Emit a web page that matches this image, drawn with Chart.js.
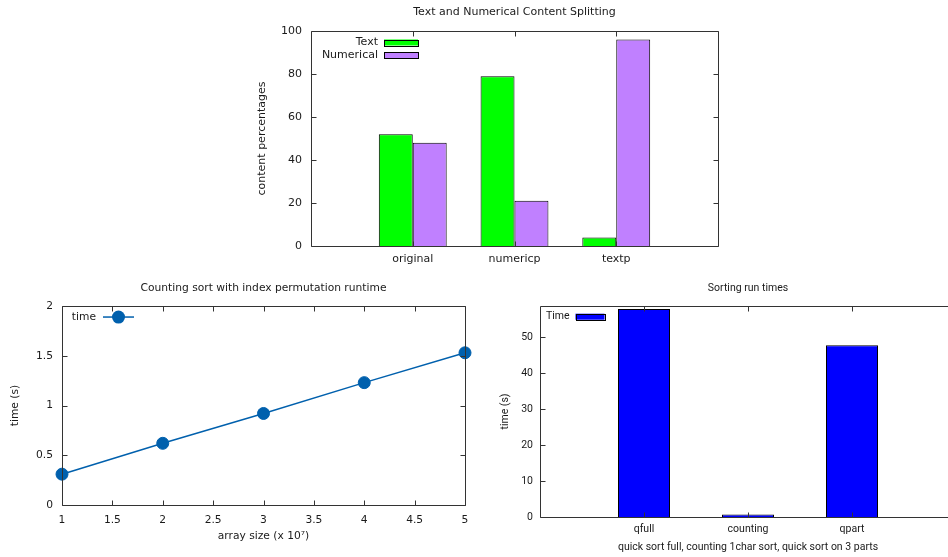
<!DOCTYPE html>
<html>
<head>
<meta charset="utf-8">
<script src="https://cdn.jsdelivr.net/npm/chart.js@4"></script>
<style>
  html, body { margin: 0; padding: 0; background: #fff; overflow: hidden; width: 948px; height: 557px; }
  canvas { position: absolute; }
</style>
</head>
<body>
<canvas id="split" width="529" height="270" style="left:250px;top:0px"></canvas>
<canvas id="counting" width="527" height="282" style="left:0px;top:275px"></canvas>
<canvas id="sorting" width="516" height="282" style="left:490px;top:275px"></canvas>
<script>
// Text / numerical content splitting
const splitCategories = ['original', 'numericp', 'textp'];
const textShare = [52, 79, 4];
const numericShare = [48, 21, 96];

// Counting sort runtime
const arraySizes = [1, 2, 3, 4, 5];
const countingTimes = [0.31, 0.62, 0.92, 1.23, 1.53];

// Sorting run times
const sortCategories = ['qfull', 'counting', 'qpart'];
const sortTimes = [57.8, 0.7, 47.7];

const INK = '#1a1a1a';
const DEJAVU = 'DejaVu Sans';
const ROBOTO = 'Roboto';

// gnuplot-like frame: border box plus inward ticks mirrored on both sides
const gnuFrame = {
  id: 'gnuFrame',
  afterDatasetsDraw(chart, args, opts) {
    const { ctx, chartArea: a, scales } = chart;
    const len = opts.len || 5;
    const L = Math.round(a.left) + 0.5, R = Math.round(a.right) + 0.5;
    const T = Math.round(a.top) + 0.5, B = Math.round(a.bottom) + 0.5;
    ctx.save();
    ctx.strokeStyle = opts.color || '#222';
    ctx.lineWidth = 1;
    ctx.beginPath();
    scales.x.ticks.forEach(t => {
      if ((opts.skipX || []).includes(t.value)) return;
      const px = Math.round(scales.x.getPixelForValue(t.value)) + 0.5;
      ctx.moveTo(px, B); ctx.lineTo(px, B - len);
      ctx.moveTo(px, T); ctx.lineTo(px, T + len);
    });
    scales.y.ticks.forEach(t => {
      const py = Math.round(scales.y.getPixelForValue(t.value)) + 0.5;
      ctx.moveTo(L, py); ctx.lineTo(L + len, py);
      ctx.moveTo(R, py); ctx.lineTo(R - len, py);
    });
    ctx.moveTo(L, T); ctx.lineTo(R, T); ctx.lineTo(R, B); ctx.lineTo(L, B); ctx.closePath();
    ctx.stroke();
    ctx.restore();
  }
};

// gnuplot-like key drawn inside the plot area
const gnuKey = {
  id: 'gnuKey',
  afterDraw(chart, args, opts) {
    const { ctx, chartArea: a } = chart;
    ctx.save();
    ctx.font = opts.font;
    ctx.textAlign = 'right';
    ctx.textBaseline = 'middle';
    chart.data.datasets.forEach((ds, i) => {
      const y = a.top + opts.top + i * (opts.rowH || 0);
      const x = a.left + opts.textRight;
      ctx.fillStyle = INK;
      ctx.fillText(ds.label, x, y);
      const sx = x + opts.gap;
      if (opts.sample === 'box') {
        ctx.fillStyle = ds.backgroundColor;
        ctx.fillRect(sx, y - opts.boxH / 2, opts.sampleW, opts.boxH);
        ctx.strokeStyle = '#000';
        ctx.lineWidth = 1;
        ctx.strokeRect(Math.round(sx) + 0.5, Math.round(y - opts.boxH / 2) + 0.5, opts.sampleW, opts.boxH);
      } else {
        ctx.strokeStyle = ds.borderColor;
        ctx.lineWidth = ds.borderWidth;
        ctx.beginPath();
        ctx.moveTo(sx, y); ctx.lineTo(sx + opts.sampleW, y);
        ctx.stroke();
        ctx.fillStyle = ds.pointBackgroundColor;
        ctx.beginPath();
        ctx.arc(sx + opts.sampleW / 2, y, opts.radius, 0, Math.PI * 2);
        ctx.fill();
      }
    });
    ctx.restore();
  }
};

Chart.register(gnuFrame, gnuKey);
Chart.defaults.color = INK;
Chart.defaults.animation = false;

const noGrid = { grid: { display: false, drawTicks: false, offset: false }, border: { display: false } };

// empty right-hand axis, same width as the left one, so the title centres over the plot
function spacer(w) {
  return { ...noGrid, position: 'right', ticks: { display: false }, afterFit: s => { s.width = w; } };
}

// ---- chart 1 ----
const f1 = { family: DEJAVU, size: 11 };
new Chart(document.getElementById('split'), {
  type: 'bar',
  data: {
    datasets: [
      {
        label: 'Text',
        data: textShare.map((v, i) => ({ x: i, y: v })),
        backgroundColor: '#00ff00',
        borderColor: '#000',
        borderWidth: 1
      },
      {
        label: 'Numerical',
        data: numericShare.map((v, i) => ({ x: i, y: v })),
        backgroundColor: '#c080ff',
        borderColor: '#000',
        borderWidth: 1
      }
    ]
  },
  options: {
    responsive: false,
    devicePixelRatio: 1,
    layout: { padding: 0 },
    datasets: { bar: { categoryPercentage: 0.667, barPercentage: 1 } },
    scales: {
      x: {
        ...noGrid,
        type: 'linear', min: -1, max: 3, offset: false,
        ticks: { font: f1, color: INK, stepSize: 1, padding: 7, maxRotation: 0,
          callback: v => splitCategories[v] || '' },
        afterFit: s => { s.height = 24; }
      },
      y: {
        ...noGrid,
        min: 0, max: 100,
        ticks: { font: f1, color: INK, stepSize: 20, padding: 9 },
        title: { display: true, text: 'content percentages', font: f1, padding: { top: 6, bottom: 0 } },
        afterFit: s => { s.width = 61; }
      },
      yr: spacer(61)
    },
    plugins: {
      legend: { display: false },
      tooltip: { enabled: false },
      title: { display: true, text: 'Text and Numerical Content Splitting', color: INK,
        font: { ...f1, weight: 'normal' }, padding: { top: 6, bottom: 11.8 } },
      gnuFrame: { skipX: [-1, 3], len: 5, color: '#333' },
      gnuKey: { font: '11px "DejaVu Sans"', textRight: 67, gap: 6, sampleW: 34, boxH: 6, top: 11.5, rowH: 12.5, sample: 'box' }
    }
  }
});

// ---- chart 2 ----
const f2 = { family: DEJAVU, size: 10.7 };
new Chart(document.getElementById('counting'), {
  type: 'line',
  data: {
    datasets: [{
      label: 'time',
      data: arraySizes.map((v, i) => ({ x: v, y: countingTimes[i] })),
      borderColor: '#0060ad',
      borderWidth: 1.5,
      pointBackgroundColor: '#0060ad',
      pointBorderColor: '#0060ad',
      pointBorderWidth: 1,
      pointRadius: 6,
      clip: false
    }]
  },
  options: {
    responsive: false,
    devicePixelRatio: 1,
    layout: { padding: 0 },
    scales: {
      x: {
        ...noGrid,
        type: 'linear', min: 1, max: 5,
        ticks: { font: f2, color: INK, stepSize: 0.5, padding: 9, maxRotation: 0,
          callback: v => String(v) },
        title: { display: true, text: 'array size (x 10\u2077)', font: f2, padding: { top: 0, bottom: 14 } },
        afterFit: s => { s.height = 52; }
      },
      y: {
        ...noGrid,
        min: 0, max: 2,
        ticks: { font: f2, color: INK, stepSize: 0.5, padding: 9, callback: v => String(v) },
        title: { display: true, text: 'time (s)', font: f2, padding: { top: 8.5, bottom: 0 } },
        afterFit: s => { s.width = 62; }
      },
      yr: spacer(62)
    },
    plugins: {
      legend: { display: false },
      tooltip: { enabled: false },
      title: { display: true, text: 'Counting sort with index permutation runtime', color: INK,
        font: { ...f2, weight: 'normal' }, padding: { top: 7, bottom: 11.2 } },
      gnuFrame: { len: 5, color: '#333' },
      gnuKey: { font: '10.7px "DejaVu Sans"', textRight: 34, gap: 7, sampleW: 31, radius: 6.5, top: 11, sample: 'line' }
    }
  }
});

// ---- chart 3 ----
const f3 = { family: ROBOTO, size: 10.5 };
new Chart(document.getElementById('sorting'), {
  type: 'bar',
  data: {
    datasets: [{
      label: 'Time',
      data: sortTimes.map((v, i) => ({ x: i, y: v })),
      backgroundColor: '#0000ff',
      borderColor: '#000',
      borderWidth: 1
    }]
  },
  options: {
    responsive: false,
    devicePixelRatio: 1,
    layout: { padding: 0 },
    datasets: { bar: { categoryPercentage: 0.5, barPercentage: 1 } },
    scales: {
      x: {
        ...noGrid,
        type: 'linear', min: -1, max: 3, offset: false,
        ticks: { font: f3, color: INK, stepSize: 1, padding: 6, maxRotation: 0,
          callback: v => sortCategories[v] || '' },
        title: { display: true, text: 'quick sort full, counting 1char sort, quick sort on 3 parts', font: f3, padding: { top: 0, bottom: 3 } },
        afterFit: s => { s.height = 40; }
      },
      y: {
        ...noGrid,
        min: 0, max: 58.6,
        ticks: { font: f3, color: INK, stepSize: 10, padding: 7, includeBounds: false },
        title: { display: true, text: 'time (s)', font: f3, padding: { top: 9, bottom: 0 } },
        afterFit: s => { s.width = 50; }
      },
      yr: spacer(50)
    },
    plugins: {
      legend: { display: false },
      tooltip: { enabled: false },
      title: { display: true, text: 'Sorting run times', color: INK,
        font: { ...f3, weight: 'normal' }, padding: { top: 7.5, bottom: 10.9 } },
      gnuFrame: { skipX: [-1, 3], len: 5, color: '#333' },
      gnuKey: { font: '10.5px Roboto', textRight: 29.5, gap: 6, sampleW: 29, boxH: 6, top: 10.7, sample: 'box' }
    }
  }
});
</script>
</body>
</html>
